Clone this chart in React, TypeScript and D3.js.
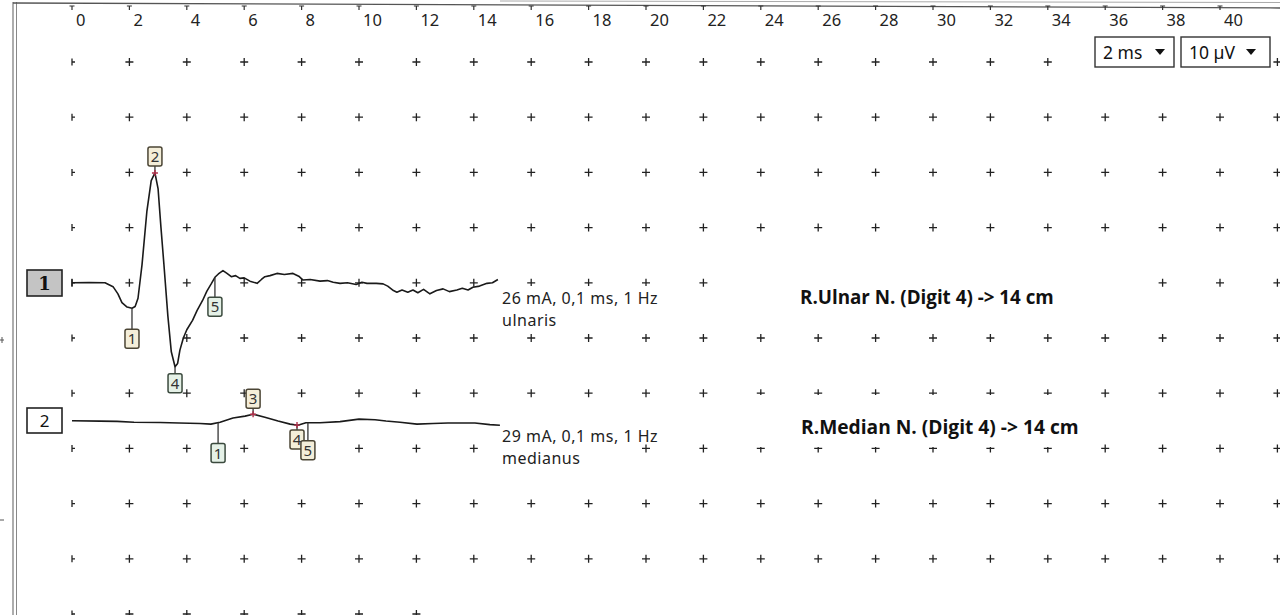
import React from 'react';
import * as d3 from 'd3';

// time axis (ms) and grid
const timeTicks = [0, 2, 4, 6, 8, 10, 12, 14, 16, 18, 20, 22, 24, 26, 28, 30, 32, 34, 36, 38, 40];
const gridTimes = [0, 2, 4, 6, 8, 10, 12, 14, 16, 18, 20, 22, 24, 26, 28, 30, 32, 34, 36, 38, 40, 42];
const gridLevels = [0, -10, -20, -30, -40, -50, -60, -70, -80, -90, -100];

// channel 1: ulnaris (ms, µV)
const ulnarT = [0, 0.6, 1.15, 1.43, 1.6, 1.74, 1.92, 2.09, 2.2, 2.3, 2.44, 2.61, 2.76, 2.89, 3.0, 3.1, 3.2, 3.34, 3.46, 3.59, 3.68, 3.76, 3.88, 4.0, 4.2, 4.36, 4.55, 4.7, 4.85, 4.98, 5.1, 5.26, 5.4, 5.55, 5.7, 5.85, 6.0, 6.2, 6.45, 6.6, 6.72, 6.9, 7.14, 7.4, 7.7, 7.9, 8.05, 8.3, 8.64, 8.9, 9.1, 9.34, 9.6, 9.9, 10.1, 10.28, 10.6, 10.84, 11.0, 11.2, 11.32, 11.5, 11.7, 11.88, 12.05, 12.25, 12.47, 12.7, 12.93, 13.15, 13.41, 13.6, 13.8, 13.97, 14.2, 14.46, 14.65, 14.84];
const ulnarV = [0, 0.05, 0, -0.7, -2.0, -3.6, -4.4, -4.6, -4.3, -2.8, 3.3, 13.0, 18.5, 19.9, 17.0, 10.0, 3.5, -6.0, -12.5, -15.2, -14.6, -12.2, -10.0, -8.5, -6.8, -5.0, -3.2, -1.5, -0.2, 1.0, 1.6, 2.2, 1.7, 1.1, 1.3, 0.8, 0.9, 0.3, -0.1, 0.6, 1.1, 1.3, 1.7, 1.5, 1.7, 1.2, 0.5, 0.6, 0.3, 0.4, 0.1, -0.1, 0.0, -0.3, 0.1, -0.1, -0.1, -0.2, -0.6, -1.4, -1.7, -1.3, -1.7, -1.3, -1.8, -1.2, -2.0, -1.4, -1.1, -1.6, -1.3, -1.0, -1.3, -0.8, -0.6, -0.1, 0.0, 0.6];

// channel 2: medianus (ms, µV)
const medianT = [0, 0.98, 1.57, 2.16, 3.07, 3.73, 4.46, 4.84, 5.16, 5.61, 6.03, 6.31, 6.72, 7.18, 7.6, 7.87, 8.15, 8.64, 9.34, 10.0, 10.56, 10.94, 11.43, 12.02, 12.58, 13.1, 13.59, 14.04, 14.56, 14.91];
const medianV = [0, -0.05, -0.1, -0.25, -0.3, -0.4, -0.5, -0.6, -0.25, 0.5, 0.85, 1.2, 0.65, -0.05, -0.6, -0.8, -0.35, -0.35, -0.15, 0.3, 0.2, -0.05, -0.25, -0.6, -0.5, -0.4, -0.4, -0.4, -0.7, -0.8];

// latency markers (ms)
const ulnarMarkerLabels = ['1', '2', '4', '5'];
const ulnarMarkerTimes = [2.09, 2.89, 3.59, 4.98];
const medianMarkerLabels = ['1', '3', '4', '5'];
const medianMarkerTimes = [5.09, 6.31, 7.84, 8.22];

const channelNames = ['1', '2'];
const stimTexts = ['26 mA, 0,1 ms, 1 Hz', '29 mA, 0,1 ms, 1 Hz'];
const nerveTexts = ['ulnaris', 'medianus'];
const notes = ['R.Ulnar N. (Digit 4) -> 14 cm', 'R.Median N. (Digit 4) -> 14 cm'];
const sweepText = '2 ms';
const gainText = '10 µV';

const W = 1280;
const H = 615;
const beige = { fill: '#f4eed9', stroke: '#4b4535' };
const green = { fill: '#e5f1e7', stroke: '#3b4a3e' };

const x = d3.scaleLinear().domain([0, 40]).range([72, 1220]);
const y = d3.scaleLinear().domain([0, -100]).range([62, 614]);

const interp = (ts: number[], vs: number[], t: number) => {
  const i = Math.max(1, d3.bisectLeft(ts, t));
  const t0 = ts[i - 1], t1 = ts[i];
  const k = t1 === t0 ? 0 : (t - t0) / (t1 - t0);
  return vs[i - 1] + (vs[i] - vs[i - 1]) * k;
};

const Cross: React.FC<{ cx: number; cy: number; half?: boolean }> = ({ cx, cy, half }) => (
  <path
    d={half ? `M${cx},${cy - 3.5}V${cy + 3.5}M${cx},${cy}h3` : `M${cx - 4},${cy}h8M${cx},${cy - 4}v8`}
    stroke="#222"
    strokeWidth={1.3}
  />
);

const Markers: React.FC<{
  ts: number[]; vs: number[]; base: number; labels: string[]; times: number[]; offsets: number[]; styles: any[]; red: boolean[];
}> = ({ ts, vs, base, labels, times, offsets, styles, red }) => (
  <g>
    {labels.map((lab, i) => {
      const px = x(times[i]);
      const py = y(base + interp(ts, vs, times[i]));
      const cy = py + offsets[i];
      const edge = offsets[i] > 0 ? cy - 9.5 : cy + 9.5;
      return (
        <g key={lab + i}>
          <line x1={px} x2={px} y1={py} y2={edge} stroke="#333" strokeWidth={1.3} />
          {red[i] && <path d={`M${px},${py - 3}v6M${px - 3},${py}h6`} stroke="#b0304a" strokeWidth={1.4} />}
          <rect x={px - 7} y={cy - 9.5} width={14} height={19} rx={2} fill={styles[i].fill} stroke={styles[i].stroke} strokeWidth={1.5} />
          <text x={px} y={cy + 5.5} textAnchor="middle" fontSize={15} fontFamily="Noto Sans" fill="#333">{lab}</text>
        </g>
      );
    })}
  </g>
);

const App: React.FC = () => {
  const line = d3.line<[number, number]>().x(d => d[0]).y(d => d[1]);
  const ulnarPath = line(ulnarT.map((t, i) => [x(t), y(-40 + ulnarV[i])]));
  const medianPath = line(medianT.map((t, i) => [x(t), y(-65 + medianV[i])]));
  const lastRow = gridLevels[gridLevels.length - 1];

  return (
    <svg width={W} height={H} style={{ position: 'absolute', left: 0, top: 0, background: '#fff' }}>
      <rect width={W} height={H} fill="#fff" />
      {/* frame */}
      <line x1={13} x2={13} y1={2} y2={H} stroke="#777" strokeWidth={1.2} />
      <line x1={16.5} x2={16.5} y1={2} y2={H} stroke="#888" strokeWidth={1} />
      <line x1={13} x2={W} y1={3} y2={8} stroke="#555" strokeWidth={1.3} />
      <line x1={500} x2={W} y1={1} y2={2.5} stroke="#aaa" strokeWidth={1} />
      <path d="M0,340h4M2,337v6M0,520h4" stroke="#555" strokeWidth={1} />

      {/* top axis */}
      {timeTicks.map(t => (
        <g key={t}>
          <path d={`M${x(t) - 2.5},6h5M${x(t)},6v4`} stroke="#333" strokeWidth={1.2} />
          <text x={x(t) + 4} y={26} fontSize={16.5} fontFamily="Noto Sans" fill="#222">{t}</text>
        </g>
      ))}

      {/* grid crosses */}
      {gridLevels.map(lv =>
        gridTimes
          .filter(t => lv !== lastRow || t <= 12)
          .map(t => <Cross key={`${lv}-${t}`} cx={x(t)} cy={y(lv)} half={t === 0} />)
      )}

      {/* white patches behind annotations */}
      <rect x={498} y={286} width={168} height={44} fill="#fff" />
      <rect x={498} y={427} width={135} height={44} fill="#fff" />
      <rect x={740} y={245} width={390} height={72} fill="#fff" />
      <rect x={740} y={395} width={340} height={52} fill="#fff" />

      {/* traces */}
      <path d={ulnarPath ?? ''} fill="none" stroke="#1a1a1a" strokeWidth={1.6} strokeLinejoin="round" />
      <path d={medianPath ?? ''} fill="none" stroke="#1a1a1a" strokeWidth={1.6} strokeLinejoin="round" />
      <path d={`M${x(0)},${y(-40) - 4}v8`} stroke="#1a1a1a" strokeWidth={1.3} />

      <Markers ts={ulnarT} vs={ulnarV} base={-40} labels={ulnarMarkerLabels} times={ulnarMarkerTimes}
        offsets={[30.5, -16.5, 16.5, 29.5]} styles={[beige, beige, green, green]} red={[false, true, false, false]} />
      <Markers ts={medianT} vs={medianV} base={-65} labels={medianMarkerLabels} times={medianMarkerTimes}
        offsets={[30.5, -15.5, 14.5, 27.5]} styles={[green, beige, beige, beige]} red={[false, true, true, false]} />

      {/* channel boxes */}
      <rect x={27} y={270} width={35} height={26} fill="#c4c4c4" stroke="#222" strokeWidth={1.6} />
      <text x={44.5} y={290} textAnchor="middle" fontSize={18} fontWeight={700} fontFamily="DejaVu Serif" fill="#111">{channelNames[0]}</text>
      <rect x={27} y={408} width={35} height={25} fill="#fff" stroke="#222" strokeWidth={1.6} />
      <text x={44.5} y={427} textAnchor="middle" fontSize={17} fontFamily="Noto Sans" fill="#111">{channelNames[1]}</text>

      {/* stimulus texts */}
      <text x={502} y={304} fontSize={16} letterSpacing={0.5} fontFamily="Noto Sans" fill="#222">{stimTexts[0]}</text>
      <text x={502} y={326} fontSize={16} letterSpacing={0.5} fontFamily="Noto Sans" fill="#222">{nerveTexts[0]}</text>
      <text x={502} y={442} fontSize={16} letterSpacing={0.5} fontFamily="Noto Sans" fill="#222">{stimTexts[1]}</text>
      <text x={502} y={464} fontSize={16} letterSpacing={0.5} fontFamily="Noto Sans" fill="#222">{nerveTexts[1]}</text>

      {/* annotations */}
      <text x={800} y={303.5} fontSize={18.8} fontWeight={700} fontFamily="Open Sans" fill="#111">{notes[0]}</text>
      <text x={801} y={433.5} fontSize={19.2} fontWeight={700} fontFamily="Open Sans" fill="#111">{notes[1]}</text>

      {/* sweep / gain selectors */}
      <rect x={1095} y={37} width={79} height={30} fill="#fff" stroke="#333" strokeWidth={1.4} />
      <text x={1103} y={58.5} fontSize={17.5} fontFamily="Noto Sans" fill="#111">{sweepText}</text>
      <path d="M1155,49h10l-5,6z" fill="#111" />
      <rect x={1181} y={37} width={89} height={30} fill="#fff" stroke="#333" strokeWidth={1.4} />
      <text x={1189} y={58.5} fontSize={17.5} fontFamily="Noto Sans" fill="#111">{gainText}</text>
      <path d="M1246,49h10l-5,6z" fill="#111" />
    </svg>
  );
};

export default App;
